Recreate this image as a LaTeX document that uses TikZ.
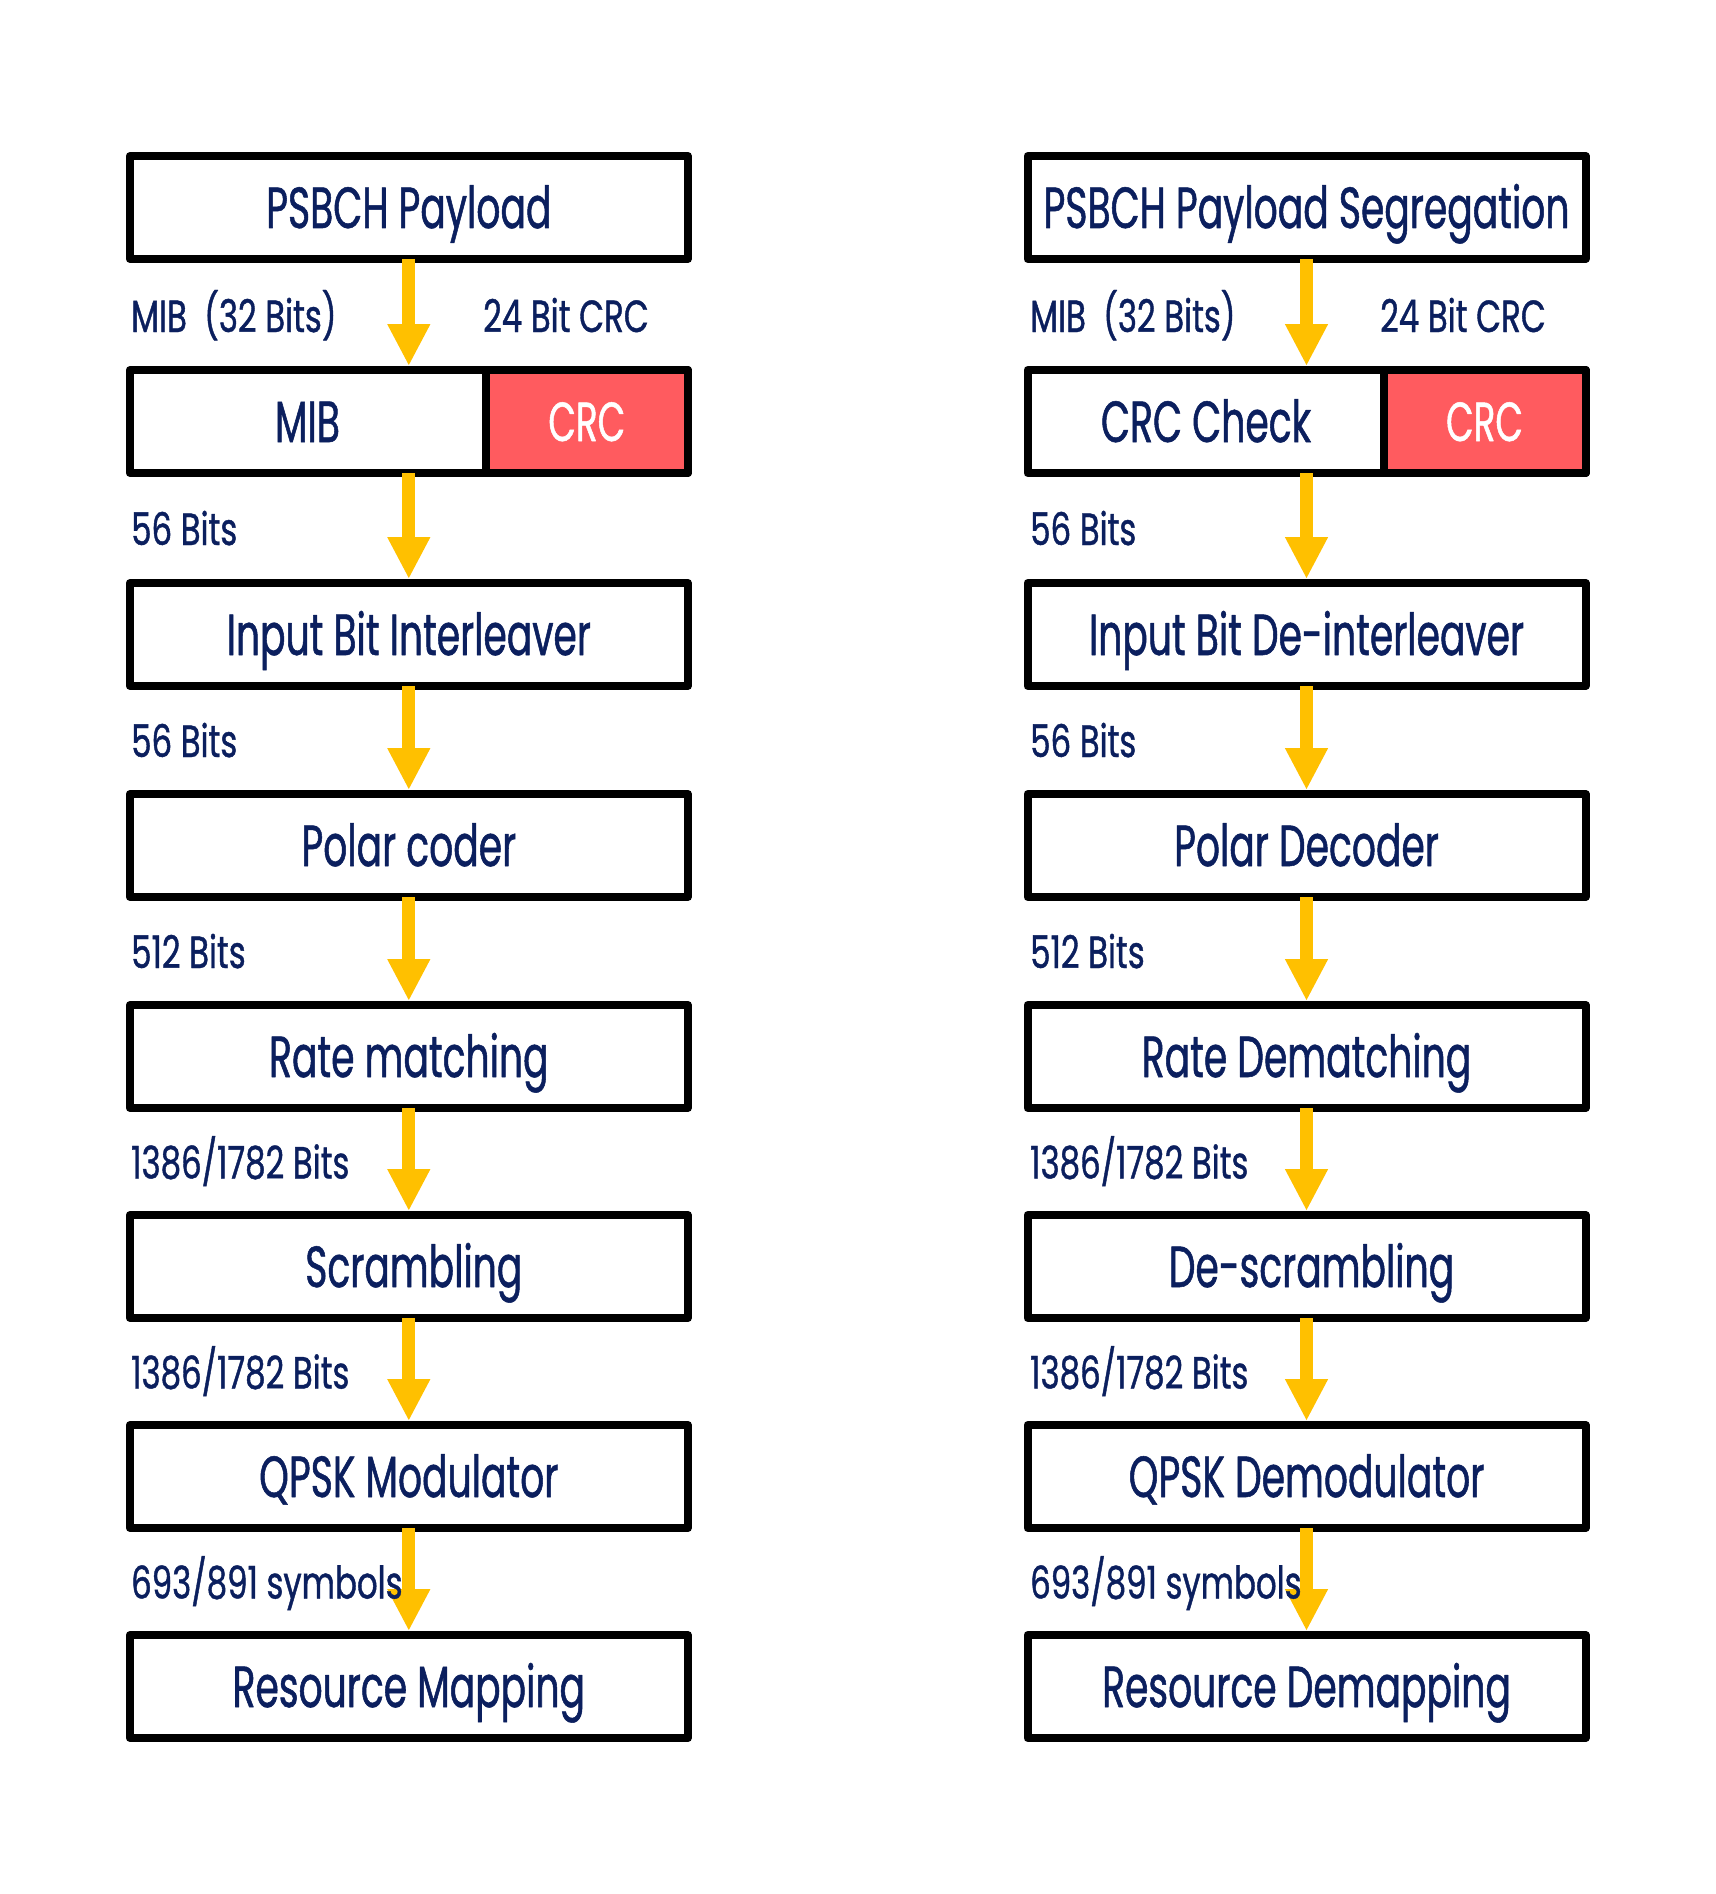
\documentclass[tikz,border=0pt]{standalone}
\usepackage{fontspec}
\setmainfont{Poppins}[FakeStretch=0.65,FakeBold=0.9]
\newfontfamily\lblfont{Poppins}[FakeStretch=0.72,FakeBold=0.9]
\usetikzlibrary{arrows.meta}
\definecolor{navy}{HTML}{0B1F5E}
\definecolor{gold}{HTML}{FFC000}
\definecolor{crcred}{HTML}{FF5B5F}
\begin{document}
\begin{tikzpicture}[x=1pt,y=-1pt,
  box/.style={draw=black, fill=white, line width=8pt, line join=round,
    minimum width=558pt, minimum height=103pt, inner sep=0pt,
    text=navy, text height=41pt, text depth=0pt,
    font=\fontsize{58}{60}\selectfont},
  crcbox/.style={box, fill=crcred, text=white, minimum width=202pt,
    font=\fontsize{55}{58}\selectfont, text height=39pt},
  txt/.style={inner sep=0pt, text=navy, text height=41pt, text depth=0pt,
    font=\fontsize{58}{60}\selectfont},
  lbl/.style={anchor=base west, inner sep=0pt, text=navy,
    font=\lblfont\fontsize{45}{47}\selectfont},
  flow/.style={draw=gold, line width=13pt,
    -{Triangle[width=40pt,length=42pt]}}
]
\useasboundingbox[fill=white] (0,0) rectangle (1715,1894);

% ---------- left column ----------
\node[box] (L1) at (408.8,207.5) {PSBCH Payload};
\node[box] (L2) at (408.8,421.5) {};
\node[crcbox] (L2c) at (586.8,421.5) {CRC};
\node[txt] (L2t) at (307.5,421.5) {MIB};
\node[box] (L3) at (408.8,634.5) {Input Bit Interleaver};
\node[box] (L4) at (408.8,845.5) {Polar coder};
\node[box] (L5) at (408.8,1056.5) {Rate matching};
\node[box] (L6) at (408.8,1266.5) {\hspace{10pt}Scrambling};
\node[box] (L7) at (408.8,1476.5) {QPSK Modulator};
\node[box] (L8) at (408.8,1686.5) {Resource Mapping};

% ---------- right column ----------
\node[box] (R1) at (1306.5,207.5) {PSBCH Payload Segregation};
\node[box] (R2) at (1306.5,421.5) {};
\node[crcbox] (R2c) at (1484.5,421.5) {CRC};
\node[txt] (R2t) at (1206,421.5) {CRC Check};
\node[box] (R3) at (1306.5,634.5) {Input Bit De-interleaver};
\node[box] (R4) at (1306.5,845.5) {Polar Decoder};
\node[box] (R5) at (1306.5,1056.5) {Rate Dematching};
\node[box] (R6) at (1306.5,1266.5) {\hspace{10pt}De-scrambling};
\node[box] (R7) at (1306.5,1476.5) {QPSK Demodulator};
\node[box] (R8) at (1306.5,1686.5) {Resource Demapping};

% ---------- arrows ----------
\foreach \c in {L,R}{
  \foreach \a/\b in {1/2,2/3,3/4,4/5,5/6,6/7,7/8}{
    \draw[flow] ([yshift=4pt]\c\a.south) -- (\c\b.north);
  }
}

% ---------- labels ----------
\foreach \x/\c in {131/l,1030/r}{
  \node[lbl] (\c g1) at (\x,332) {MIB\ \ (32 Bits)};
  \node[lbl] (\c g2) at (\x,545) {56 Bits};
  \node[lbl] (\c g3) at (\x,757) {56 Bits};
  \node[lbl] (\c g4) at (\x,968) {512 Bits};
  \node[lbl] (\c g5) at (\x,1178.5) {1386/1782 Bits};
  \node[lbl] (\c g6) at (\x,1388.5) {1386/1782 Bits};
  \node[lbl] (\c g7) at (\x,1598.5) {693/891 symbols};
}
\node[lbl] (lcrc) at (483,332) {24 Bit CRC};
\node[lbl] (rcrc) at (1380,332) {24 Bit CRC};
\end{tikzpicture}
\end{document}
